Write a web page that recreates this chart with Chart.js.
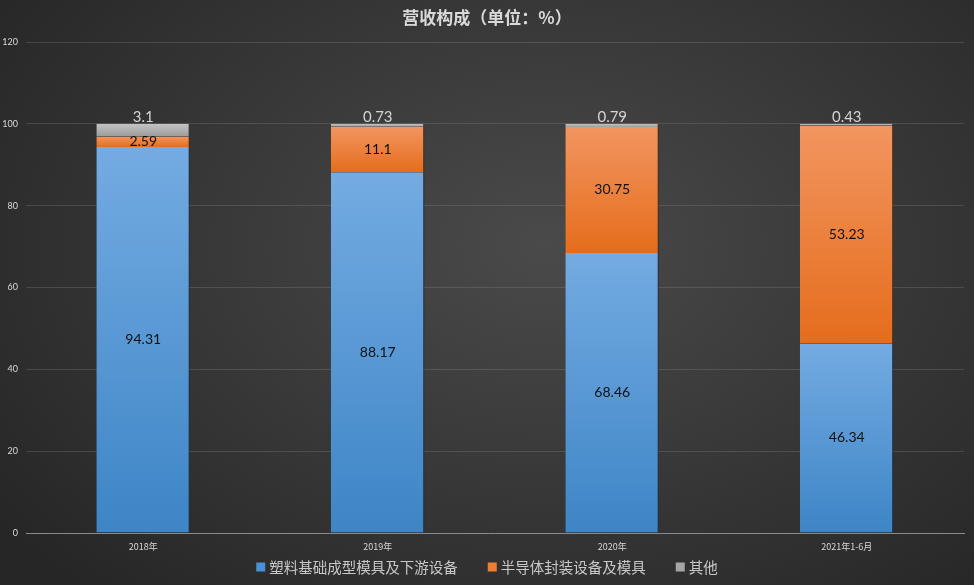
<!DOCTYPE html>
<html>
<head>
<meta charset="utf-8">
<script src="https://cdn.jsdelivr.net/npm/chart.js@4/dist/chart.umd.min.js"></script>
<style>
  html, body { margin: 0; padding: 0; }
  body {
    width: 974px; height: 585px; overflow: hidden;
    background: radial-gradient(ellipse 70% 80% at 56% 42%, #4a4a4a 0%, #3a3a3a 45%, #262626 100%);
  }
  #wrap { position: relative; width: 974px; height: 585px; }
</style>
</head>
<body>
<div id="wrap"><canvas id="chart"></canvas></div>
<script>
const categories = ['2018年', '2019年', '2020年', '2021年1-6月'];
const plastic = [94.31, 88.17, 68.46, 46.34];
const semicon = [2.59, 11.1, 30.75, 53.23];
const others = [3.1, 0.73, 0.79, 0.43];
const seriesNames = ['塑料基础成型模具及下游设备', '半导体封装设备及模具', '其他'];
const legendColors = ['#4a90d4', '#ed7d31', '#a5a5a5'];
const yTicks = [0, 20, 40, 60, 80, 100, 120];

const FONT = '"Lato", "Noto Sans CJK SC", sans-serif';
const CJK = '"Noto Sans CJK SC", sans-serif';
const allSeries = [plastic, semicon, others];

// gradient per segment, from top colour to bottom colour
function segGradient(top, bottom) {
    return ctx => {
        const chart = ctx.chart;
        if (!chart.chartArea || ctx.type !== 'data') return bottom;
        const i = ctx.dataIndex, d = ctx.datasetIndex;
        let start = 0;
        for (let k = 0; k < d; k++) start += allSeries[k][i];
        const end = start + allSeries[d][i];
        const y = chart.scales.y;
        const g = chart.ctx.createLinearGradient(0, y.getPixelForValue(end), 0, y.getPixelForValue(start));
        g.addColorStop(0, top);
        g.addColorStop(1, bottom);
        return g;
    };
}

const segLabels = {
    id: 'segLabels',
    afterDatasetsDraw(chart) {
        const c = chart.ctx;
        c.save();
        c.textAlign = 'center';
        c.textBaseline = 'middle';
        chart.data.datasets.forEach((ds, d) => {
            const meta = chart.getDatasetMeta(d);
            meta.data.forEach((bar, i) => {
                const v = ds.data[i];
                if (d === 2) {
                    c.fillStyle = '#d4d4d4';
                    c.font = '15px ' + FONT;
                    c.fillText(String(v), bar.x, bar.y - 7);
                } else {
                    c.fillStyle = '#111111';
                    c.font = '14px ' + FONT;
                    c.fillText(String(v), bar.x, (bar.y + bar.base) / 2);
                }
            });
        });
        c.restore();
    }
};

const titleAndLegend = {
    id: 'titleAndLegend',
    afterDraw(chart) {
        const c = chart.ctx;
        c.save();
        c.fillStyle = '#d9d9d9';
        c.font = 'bold 17px ' + CJK;
        c.textAlign = 'center';
        c.textBaseline = 'middle';
        c.fillText('营收构成（单位：%）', 487, 18);

        // legend along the bottom
        c.font = '14.5px ' + CJK;
        c.textAlign = 'left';
        const box = 9, gap = 4, spacing = 30;
        const widths = seriesNames.map(n => box + gap + c.measureText(n).width);
        const total = widths.reduce((a, b) => a + b, 0) + spacing * (seriesNames.length - 1);
        let x = 487 - total / 2;
        const y = 567;
        seriesNames.forEach((n, i) => {
            c.fillStyle = legendColors[i];
            c.fillRect(x, y - box / 2, box, box);
            c.fillStyle = '#c8c8c8';
            c.fillText(n, x + box + gap, y);
            x += widths[i] + spacing;
        });
        c.restore();
    }
};

const barBorder = { top: 0, right: 1.5, bottom: 0, left: 0 };

new Chart(document.getElementById('chart'), {
    type: 'bar',
    data: {
        labels: categories,
        datasets: [
            {
                label: seriesNames[0],
                data: plastic,
                backgroundColor: segGradient('#74abe2', '#3d85c6'),
                borderColor: 'rgba(30,50,80,0.6)',
                borderWidth: barBorder,
                borderSkipped: false
            },
            {
                label: seriesNames[1],
                data: semicon,
                backgroundColor: segGradient('#f29560', '#e56d1c'),
                borderColor: 'rgba(90,40,10,0.6)',
                borderWidth: barBorder,
                borderSkipped: false
            },
            {
                label: seriesNames[2],
                data: others,
                backgroundColor: segGradient('#c4c4c4', '#9c9c9c'),
                borderColor: 'rgba(60,60,60,0.6)',
                borderWidth: barBorder,
                borderSkipped: false
            }
        ]
    },
    options: {
        responsive: true,
        maintainAspectRatio: false,
        animation: false,
        layout: { padding: { top: 42, right: 10, left: 0, bottom: 30 } },
        datasets: {
            bar: { categoryPercentage: 1, barPercentage: 0.4 }
        },
        plugins: {
            title: { display: false },
            tooltip: { enabled: false },
            legend: { display: false }
        },
        scales: {
            x: {
                stacked: true,
                grid: { display: false },
                border: { color: '#8a8a8a', width: 1 },
                ticks: { color: '#d9d9d9', font: { family: CJK, size: 9 }, padding: 0 },
                afterFit(s) { s.height = 22; }
            },
            y: {
                stacked: true,
                min: 0,
                max: 120,
                afterBuildTicks(s) { s.ticks = yTicks.map(v => ({ value: v })); },
                grid: { color: 'rgba(150,150,150,0.25)', drawTicks: false },
                border: { display: false },
                ticks: { color: '#d9d9d9', font: { family: FONT, size: 9 }, padding: 8 },
                afterFit(s) { s.width = 26; }
            }
        }
    },
    plugins: [segLabels, titleAndLegend]
});
</script>
</body>
</html>
